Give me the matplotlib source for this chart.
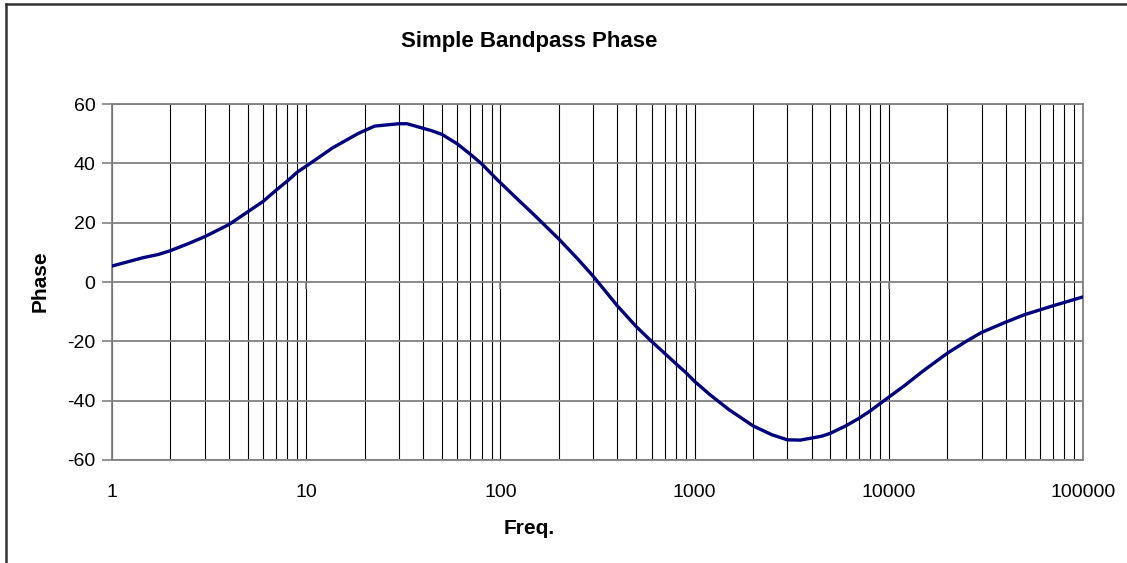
import matplotlib.pyplot as plt
from matplotlib.lines import Line2D

plt.rcParams['font.family'] = ['Liberation Sans', 'DejaVu Sans']
plt.rcParams['axes.unicode_minus'] = False

freq = [1, 1.44, 1.73, 2, 2.5, 3, 4, 5, 6, 7, 8, 9, 10,
        13.7, 18.5, 22.5, 30, 33, 44, 50, 60, 70, 80, 95,
        120, 150, 200, 250, 300, 400, 500, 600, 700, 800, 900,
        1000, 1200, 1500, 2000, 2500, 3000, 3500, 4500, 5000, 6000,
        7000, 8000, 10000, 12000, 15000, 20000, 25000, 30000, 40000,
        50000, 70000, 100000]
phase = [5.4, 8.2, 9.3, 10.6, 13.1, 15.3, 19.4, 23.7, 27.2, 31.0, 34.1, 37.1, 39.1,
         45.3, 50.1, 52.6, 53.4, 53.4, 51.1, 49.8, 46.6, 43.1, 39.9, 34.9,
         28.5, 22.5, 14.5, 7.8, 2.0, -8.0, -15.0, -20.0, -24.0, -27.5, -30.5,
         -33.5, -38.0, -43.0, -48.5, -51.5, -53.2, -53.3, -52.0, -51.0, -48.5,
         -46.0, -43.5, -38.8, -35.0, -30.0, -24.0, -20.0, -17.0, -13.5,
         -11.0, -8.0, -5.0]

major_x = [1, 10, 100, 1000, 10000, 100000]
x_labels = ['1', '10', '100', '1000', '10000', '100000']
y_ticks = [-60, -40, -20, 0, 20, 40, 60]

fig = plt.figure(figsize=(11.27, 5.63), dpi=100)
ax = fig.add_axes([0.0994, 0.183, 0.8616, 0.632])

ax.set_xscale('log')
ax.set_xlim(1, 100000)
ax.set_ylim(-60, 60)

# vertical grid: black, major and minor
ax.grid(True, which='both', axis='x', color='black', linewidth=0.8)
ax.grid(True, which='major', axis='y', color='#808080', linewidth=1.3)
ax.set_axisbelow(True)

ax.plot(freq, phase, color='#000080', linewidth=2.4, zorder=3)

# little tick marks on the axis line at y = 0
ax.vlines(major_x, -2.2, 0, colors='#808080', linewidth=1.2, zorder=2)

ax.set_xticks(major_x)
ax.set_xticklabels(x_labels)
ax.set_yticks(y_ticks)
ax.tick_params(axis='x', which='both', length=0, pad=17, labelsize=14)
ax.tick_params(axis='y', length=7, width=1.2, color='#808080', pad=5, labelsize=14)

for s in ax.spines.values():
    s.set_color('#808080')
    s.set_linewidth(1.3)

fig.text(0.4694, 0.927, 'Simple Bandpass Phase', ha='center', va='center',
         fontsize=16, fontweight='bold')
fig.text(0.4694, 0.062, 'Freq.', ha='center', va='center',
         fontsize=15, fontweight='bold')
fig.text(0.0355, 0.5, 'Phase', ha='center', va='center', rotation=90,
         fontsize=15, fontweight='bold')

# outer chart border (left and top only visible)
fig.add_artist(Line2D([5.5 / 1127, 5.5 / 1127], [0, 1 - 4 / 563],
                      color='#333333', linewidth=1.8))
fig.add_artist(Line2D([5.5 / 1127, 1], [1 - 4 / 563, 1 - 4 / 563],
                      color='#333333', linewidth=1.8))

fig.savefig('out.png', dpi=100, facecolor='white')
